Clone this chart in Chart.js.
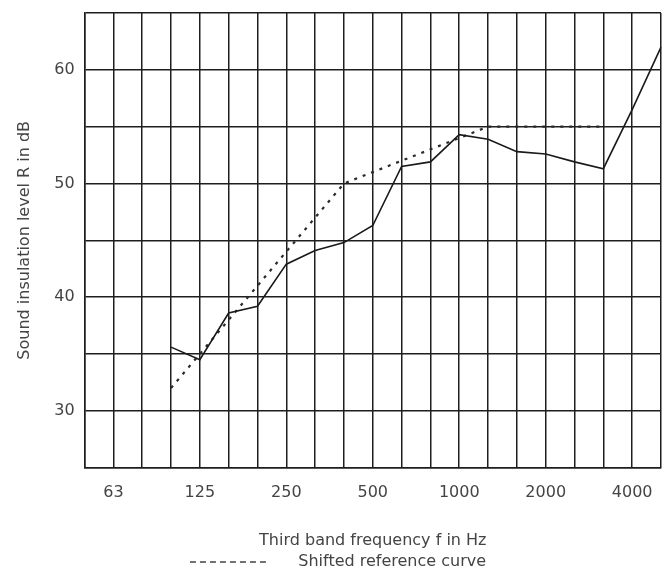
<!DOCTYPE html>
<html>
<head>
<meta charset="utf-8">
<script src="https://cdn.jsdelivr.net/npm/chart.js@4/dist/chart.umd.min.js"></script>
<style>
  body { margin: 0; background: #fff; }
  #wrap { width: 664px; height: 572px; }
</style>
</head>
<body>
<div id="wrap"><canvas id="myChart" width="664" height="572"></canvas></div>
<script>
// third octave bands 50 Hz .. 5000 Hz
const bands = ['50', '63', '80', '100', '125', '160', '200', '250', '315', '400', '500',
  '630', '800', '1000', '1250', '1600', '2000', '2500', '3150', '4000', '5000'];
const shownBands = ['63', '125', '250', '500', '1000', '2000', '4000'];

// measured sound insulation R (dB)
const measured = [null, null, null, 35.6, 34.5, 38.6, 39.2, 42.9, 44.1, 44.8, 46.3,
  51.5, 51.9, 54.3, 53.9, 52.8, 52.6, 51.9, 51.3, 56.5, 62.0];

// shifted reference curve (dB)
const reference = [null, null, null, 32, 35, 38, 41, 44, 47, 50, 51,
  52, 53, 54, 55, 55, 55, 55, 55, null, null];

const yLabels = [30, 40, 50, 60];

const textColor = '#444';
const gridColor = '#1e1e1e';
const font = { family: 'DejaVu Sans', size: 16 };

window.onload = () => {
  const ctx = document.getElementById('myChart').getContext('2d');
  new Chart(ctx, {
    type: 'line',
    data: {
      labels: bands,
      datasets: [{
        label: 'Measured',
        data: measured,
        borderColor: '#1a1a1a',
        borderWidth: 1.6,
        pointRadius: 0,
        tension: 0,
        fill: false
      },
      {
        label: '    Shifted reference curve',
        data: reference,
        borderColor: '#2a2a2a',
        borderWidth: 2.2,
        borderDash: [3, 6],
        pointRadius: 0,
        tension: 0,
        fill: false
      }]
    },
    options: {
      responsive: false,
      animation: false,
      layout: { padding: { top: 13, right: 3, left: 15, bottom: -8 } },
      plugins: {
        tooltip: { enabled: false },
        legend: {
          position: 'bottom',
          labels: {
            color: textColor,
            font: font,
            usePointStyle: true,
            pointStyle: 'line',
            pointStyleWidth: 80,
            padding: 4,
            filter: item => item.datasetIndex === 1,
            generateLabels: chart => {
              const items = Chart.defaults.plugins.legend.labels.generateLabels(chart);
              items.forEach(it => {
                it.pointStyle = 'line';
                it.lineDash = [6, 4];
                it.lineWidth = 1.3;
                it.strokeStyle = '#444';
                it.fillStyle = 'rgba(0,0,0,0)';
              });
              return items;
            }
          }
        }
      },
      scales: {
        x: {
          grid: { color: gridColor, lineWidth: 1.5, drawTicks: true, tickLength: 16, tickColor: 'rgba(0,0,0,0)' },
          border: { color: gridColor, width: 1.5 },
          ticks: {
            color: textColor,
            font: font,
            autoSkip: false,
            maxRotation: 0,
            padding: 0,
            callback: function (value) {
              const lbl = bands[value];
              return shownBands.includes(lbl) ? lbl : '';
            }
          },
          title: {
            display: true,
            text: 'Third band frequency f in Hz',
            color: textColor,
            font: font,
            padding: { top: 28, bottom: 0 }
          }
        },
        y: {
          min: 25,
          max: 65,
          grid: { color: gridColor, lineWidth: 1.5, drawTicks: true, tickLength: 10, tickColor: 'rgba(0,0,0,0)' },
          border: { color: gridColor, width: 1.5 },
          ticks: {
            stepSize: 5,
            color: textColor,
            font: font,
            padding: 0,
            callback: v => yLabels.includes(v) ? String(v) : ''
          },
          title: {
            display: true,
            text: 'Sound insulation level R in dB',
            color: textColor,
            font: font,
            padding: { top: 0, bottom: 20 }
          }
        }
      }
    }
  });
};
</script>
</body>
</html>
